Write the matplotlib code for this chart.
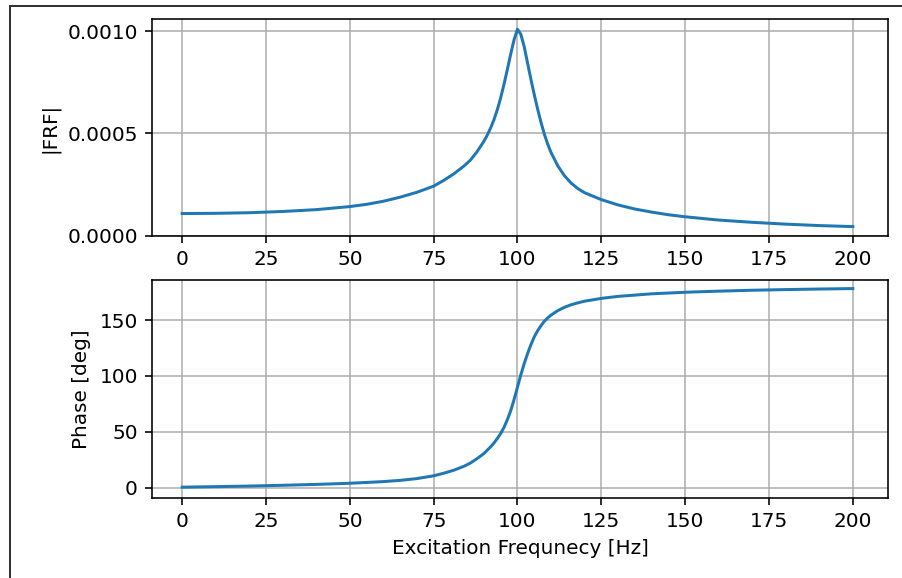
import numpy as np
import matplotlib.pyplot as plt
from matplotlib.lines import Line2D

# values
freq_mag = [0, 10, 20, 30, 40, 50, 55, 60, 65, 70, 75, 78, 81, 84, 86, 88, 90, 91,
            92, 93, 94, 95, 96, 97, 98, 99, 100, 101, 102, 103, 104, 105, 106, 107,
            108, 109, 110, 112, 114, 116, 118, 120, 125, 130, 135, 140, 145, 150,
            160, 170, 180, 190, 200]
frf_mag = [1.08e-4, 1.09e-4, 1.12e-4, 1.18e-4, 1.27e-4, 1.42e-4, 1.53e-4, 1.68e-4,
           1.88e-4, 2.12e-4, 2.42e-4, 2.70e-4, 3.02e-4, 3.40e-4, 3.70e-4, 4.12e-4,
           4.62e-4, 4.92e-4, 5.27e-4, 5.68e-4, 6.17e-4, 6.75e-4, 7.42e-4, 8.15e-4,
           8.90e-4, 9.60e-4, 1.01e-3, 9.85e-4, 9.25e-4, 8.45e-4, 7.65e-4, 6.90e-4,
           6.20e-4, 5.55e-4, 4.97e-4, 4.48e-4, 4.07e-4, 3.42e-4, 2.93e-4, 2.57e-4,
           2.30e-4, 2.10e-4, 1.76e-4, 1.50e-4, 1.30e-4, 1.15e-4, 1.02e-4, 9.2e-5,
           7.6e-5, 6.5e-5, 5.6e-5, 4.9e-5, 4.4e-5]

freq_ph = [0, 10, 20, 30, 40, 50, 60, 65, 70, 75, 78, 81, 84, 86, 88, 90, 91, 92,
           93, 94, 95, 96, 97, 98, 99, 100, 101, 102, 103, 104, 105, 106, 107, 108,
           109, 110, 112, 114, 116, 118, 120, 125, 130, 140, 150, 160, 170, 180,
           190, 200]
phase_deg = [0.3, 0.8, 1.3, 2.0, 2.8, 3.8, 5.3, 6.4, 8.0, 10.5, 12.8, 15.5, 19, 22,
             26, 30.5, 33.5, 36.5, 40, 44, 48.5, 54, 61, 69, 79, 90, 101, 111, 120,
             128, 135, 140.5, 145, 149, 152, 154.5, 158.5, 161.5, 163.8, 165.5, 167,
             169.5, 171.3, 173.6, 175, 176, 176.8, 177.4, 177.9, 178.3]

fig = plt.figure(figsize=(902 / 144, 578 / 144), dpi=144)
ax1 = fig.add_axes([0.1685, 0.5917, 0.816, 0.3754])
ax2 = fig.add_axes([0.1685, 0.1384, 0.816, 0.3772])

ax1.plot(freq_mag, frf_mag)
ax1.set_ylabel('|FRF|')
ax1.set_xlim(-9, 210.5)
ax1.set_ylim(-0.000002, 0.00106)
ax1.set_yticks([0, 0.0005, 0.0010])
ax1.set_yticklabels(['0.0000', '0.0005', '0.0010'])
ax1.set_xticks(np.arange(0, 201, 25))
ax1.grid()

ax2.plot(freq_ph, phase_deg)
ax2.set_ylabel('Phase [deg]')
ax2.set_xlabel('Excitation Frequnecy [Hz]')
ax2.set_xlim(-9, 210.5)
ax2.set_ylim(-9.4, 186)
ax2.set_xticks(np.arange(0, 201, 25))
ax2.set_yticks([0, 50, 100, 150])
ax2.grid()

# screenshot frame on top and left
fig.add_artist(Line2D([10 / 902, 1], [1 - 6 / 578, 1 - 6 / 578], color='#333333', lw=1.0))
fig.add_artist(Line2D([10 / 902, 10 / 902], [0, 1 - 6 / 578], color='#333333', lw=1.0))

plt.savefig('out.png', dpi=144)
